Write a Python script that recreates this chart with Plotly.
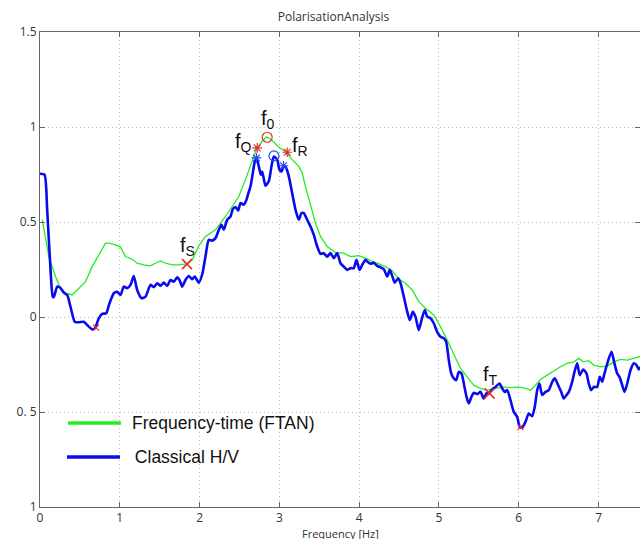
import plotly.graph_objects as go

# ---- data ----
blue_x = [0.0, 0.056, 0.090, 0.132, 0.160, 0.173, 0.216, 0.257, 0.298, 0.341, 0.382, 0.436, 0.486, 0.549,
          0.591, 0.654, 0.687, 0.737, 0.779, 0.830, 0.871, 0.925, 0.967, 1.009, 1.050, 1.093, 1.134, 1.175,
          1.218, 1.272, 1.322, 1.385, 1.426, 1.469, 1.510, 1.551, 1.594, 1.635, 1.677, 1.719, 1.748, 1.782,
          1.823, 1.865, 1.907, 1.940, 1.990, 2.033, 2.074, 2.115, 2.158, 2.199, 2.241, 2.274, 2.303, 2.346,
          2.387, 2.416, 2.450, 2.484, 2.513, 2.554, 2.584, 2.609, 2.638, 2.667, 2.692, 2.713, 2.742, 2.767,
          2.784, 2.826, 2.867, 2.901, 2.930, 2.972, 3.001, 3.026, 3.055, 3.085, 3.118, 3.160, 3.202, 3.243,
          3.277, 3.306, 3.348, 3.390, 3.431, 3.474, 3.515, 3.556, 3.599, 3.640, 3.682, 3.724, 3.766, 3.807,
          3.850, 3.891, 3.932, 3.966, 4.004, 4.038, 4.079, 4.100, 4.142, 4.183, 4.226, 4.267, 4.308, 4.351,
          4.383, 4.414, 4.446, 4.489, 4.518, 4.559, 4.602, 4.634, 4.672, 4.705, 4.747, 4.781, 4.822, 4.852,
          4.894, 4.935, 4.977, 5.019, 5.060, 5.090, 5.123, 5.153, 5.186, 5.216, 5.248, 5.282, 5.311, 5.345,
          5.373, 5.407, 5.436, 5.479, 5.520, 5.561, 5.595, 5.633, 5.667, 5.708, 5.758, 5.792, 5.825, 5.855,
          5.896, 5.937, 5.980, 6.013, 6.043, 6.084, 6.125, 6.168, 6.200, 6.231, 6.259, 6.293, 6.335, 6.376,
          6.419, 6.451, 6.494, 6.531, 6.564, 6.598, 6.627, 6.669, 6.698, 6.732, 6.764, 6.807, 6.848, 6.877,
          6.907, 6.940, 6.982, 7.015, 7.045, 7.074, 7.115, 7.162, 7.199, 7.233, 7.262, 7.296, 7.325, 7.359,
          7.400, 7.441, 7.475, 7.504, 7.537]
blue_y = [0.754, 0.749, 0.564, 0.248, 0.107, 0.105, 0.160, 0.153, 0.128, 0.116, 0.054, -0.025, -0.028, -0.025,
          -0.042, -0.065, -0.060, -0.007, 0.016, 0.020, 0.072, 0.125, 0.133, 0.116, 0.160, 0.151, 0.169, 0.216,
          0.142, 0.099, 0.107, 0.169, 0.157, 0.178, 0.164, 0.181, 0.164, 0.195, 0.186, 0.209, 0.195, 0.160,
          0.195, 0.216, 0.199, 0.213, 0.181, 0.225, 0.320, 0.406, 0.402, 0.415, 0.459, 0.485, 0.459, 0.512,
          0.529, 0.568, 0.579, 0.561, 0.600, 0.591, 0.613, 0.649, 0.687, 0.758, 0.819, 0.837, 0.793, 0.749,
          0.766, 0.691, 0.714, 0.793, 0.845, 0.828, 0.775, 0.766, 0.796, 0.784, 0.740, 0.652, 0.564, 0.512,
          0.547, 0.547, 0.512, 0.476, 0.432, 0.371, 0.332, 0.336, 0.318, 0.336, 0.310, 0.336, 0.283, 0.265,
          0.248, 0.257, 0.257, 0.301, 0.248, 0.274, 0.301, 0.292, 0.280, 0.286, 0.269, 0.262, 0.252, 0.213,
          0.248, 0.216, 0.181, 0.204, 0.178, 0.107, 0.028, -0.016, 0.028, 0.002, -0.069, -0.016, 0.037, 0.002,
          -0.007, -0.033, -0.078, -0.104, -0.112, -0.130, -0.227, -0.297, -0.323, -0.332, -0.289, -0.297, -0.350, -0.420,
          -0.455, -0.420, -0.399, -0.406, -0.394, -0.429, -0.402, -0.399, -0.381, -0.368, -0.350, -0.376, -0.394, -0.385,
          -0.438, -0.499, -0.526, -0.579, -0.582, -0.552, -0.508, -0.522, -0.473, -0.385, -0.350, -0.411, -0.394, -0.385,
          -0.341, -0.323, -0.359, -0.394, -0.429, -0.411, -0.394, -0.341, -0.289, -0.244, -0.306, -0.276, -0.297, -0.350,
          -0.385, -0.368, -0.368, -0.315, -0.341, -0.297, -0.236, -0.183, -0.244, -0.297, -0.315, -0.359, -0.394, -0.350,
          -0.280, -0.244, -0.253, -0.276, -0.258]

green_x = [0.028, 0.069, 0.110, 0.153, 0.194, 0.257, 0.320, 0.404, 0.466, 0.570, 0.654, 0.758, 0.821, 0.862,
           0.946, 1.009, 1.071, 1.155, 1.218, 1.301, 1.385, 1.447, 1.510, 1.573, 1.657, 1.739, 1.845, 1.907,
           1.990, 2.074, 2.199, 2.325, 2.409, 2.491, 2.575, 2.659, 2.713, 2.784, 2.838, 2.889, 2.992, 3.085,
           3.160, 3.243, 3.286, 3.327, 3.390, 3.452, 3.515, 3.599, 3.703, 3.807, 3.891, 3.995, 4.079, 4.142,
           4.246, 4.330, 4.414, 4.496, 4.580, 4.664, 4.747, 4.831, 4.935, 5.019, 5.103, 5.186, 5.269, 5.353,
           5.436, 5.520, 5.604, 5.708, 5.792, 5.896, 6.000, 6.084, 6.147, 6.209, 6.272, 6.356, 6.439, 6.523,
           6.606, 6.689, 6.752, 6.807, 6.877, 6.940, 7.024, 7.108, 7.190, 7.274, 7.359, 7.441, 7.537]
green_y = [0.512, 0.406, 0.318, 0.265, 0.213, 0.151, 0.125, 0.116, 0.142, 0.186, 0.265, 0.339, 0.389, 0.389,
           0.380, 0.368, 0.318, 0.304, 0.283, 0.274, 0.269, 0.283, 0.295, 0.283, 0.274, 0.274, 0.280, 0.301,
           0.374, 0.424, 0.459, 0.529, 0.582, 0.634, 0.723, 0.828, 0.884, 0.925, 0.948, 0.937, 0.895, 0.867,
           0.828, 0.793, 0.758, 0.687, 0.582, 0.494, 0.424, 0.371, 0.339, 0.336, 0.318, 0.323, 0.310, 0.297,
           0.280, 0.265, 0.244, 0.199, 0.178, 0.142, 0.081, 0.046, 0.011, -0.051, -0.121, -0.200, -0.271, -0.315,
           -0.359, -0.376, -0.385, -0.376, -0.368, -0.372, -0.368, -0.376, -0.385, -0.359, -0.329, -0.306, -0.283, -0.262,
           -0.244, -0.236, -0.218, -0.236, -0.230, -0.253, -0.262, -0.258, -0.236, -0.223, -0.227, -0.218, -0.206]

# picked points
red_x_pts_x = [0.702, 6.021]
red_x_pts_y = [-0.056, -0.580]
big_x_pts_x = [1.842, 5.633]
big_x_pts_y = [0.278, -0.402]
red_star_x = [2.722, 3.098]
red_star_y = [0.890, 0.867]
blue_star_x = [2.713, 3.051]
blue_star_y = [0.837, 0.796]
red_circle_x = [2.847]
red_circle_y = [0.946]
blue_circle_x = [2.932]
blue_circle_y = [0.848]

label_text = ["f<sub>Q</sub>", "f<sub>0</sub>", "f<sub>R</sub>", "f<sub>S</sub>", "f<sub>T</sub>"]
label_x = [2.553, 2.863, 3.264, 1.848, 5.645]
label_y = [0.918, 1.039, 0.897, 0.369, -0.306]

series_names = ["Frequency-time (FTAN)", " Classical H/V"]

y_tickvals = [-1, -0.5, 0, 0.5, 1, 1.5]
y_ticktext = ["1", "0. 5", "0", "0.5", "1", "1.5"]
x_tickvals = [0, 1, 2, 3, 4, 5, 6, 7]

GREEN = "#22ee22"
BLUE = "#0a0aee"
RED = "#e03030"
LBLUE = "#2244ff"

fig = go.Figure()
fig.add_trace(go.Scatter(x=green_x, y=green_y, mode="lines", line=dict(color=GREEN, width=1.3),
                         name=series_names[0], showlegend=False, hoverinfo="skip"))
fig.add_trace(go.Scatter(x=blue_x, y=blue_y, mode="lines",
                         line=dict(color=BLUE, width=2.6, shape="spline", smoothing=0.6),
                         name=series_names[1], showlegend=False, hoverinfo="skip"))


def add_markers(xs, ys, symbol, size, color, width):
    fig.add_trace(go.Scatter(x=xs, y=ys, mode="markers", showlegend=False, hoverinfo="skip",
                             marker=dict(symbol=symbol, size=size, color=color,
                                         line=dict(color=color, width=width))))


add_markers(red_x_pts_x, red_x_pts_y, "x-thin-open", 6, RED, 1.2)
add_markers(big_x_pts_x, big_x_pts_y, "x-thin-open", 10, RED, 1.6)
add_markers(red_star_x, red_star_y, "asterisk-open", 8, RED, 1.2)
add_markers(blue_star_x, blue_star_y, "asterisk-open", 8, LBLUE, 1.2)
add_markers(red_circle_x, red_circle_y, "circle-open", 10, RED, 1.2)
add_markers(blue_circle_x, blue_circle_y, "circle-open", 10, LBLUE, 1.2)

for t, xx, yy in zip(label_text, label_x, label_y):
    fig.add_annotation(x=xx, y=yy, text=t, showarrow=False,
                       font=dict(family="Liberation Sans, Arial", size=20, color="#111"))

# manual legend (line samples + labels) inside the axes, lower left
legend_rows = [(0.1768, GREEN, 0.0467, 0.135, 0.150), (0.1053, BLUE, 0.045, 0.1333, 0.146)]
for (ly, col, x0, x1, tx), name in zip(legend_rows, series_names):
    fig.add_shape(type="line", xref="paper", yref="paper", x0=x0, x1=x1, y0=ly, y1=ly,
                  line=dict(color=col, width=3.5))
    fig.add_annotation(xref="paper", yref="paper", x=tx, y=ly, text=name, showarrow=False,
                       xanchor="left", yanchor="middle",
                       font=dict(family="Liberation Sans, Arial", size=17.5, color="#111"))

fig.add_annotation(xref="paper", yref="paper", x=0.5, y=-0.056, text="Frequency [Hz]", showarrow=False,
                   xanchor="center", yanchor="middle", borderpad=0,
                   font=dict(family="Open Sans, Liberation Sans", size=11, color="#333"))

axis_common = dict(showline=True, linecolor="#666", linewidth=1, mirror="ticks", ticks="inside",
                   ticklen=5, tickcolor="#666", showgrid=True, gridcolor="#b8b8b8", griddash="1px,3px",
                   gridwidth=1, zeroline=False,
                   tickfont=dict(family="Open Sans, Liberation Sans", size=12, color="#333"))

fig.update_layout(
    width=640, height=539,
    margin=dict(l=40, r=0, t=32, b=32),
    plot_bgcolor="white", paper_bgcolor="white",
    showlegend=False,
    title=dict(text="PolarisationAnalysis", x=0.521, xanchor="center", y=0.968, yanchor="middle",
               font=dict(family="Open Sans, Liberation Sans", size=12, color="#333")),
    xaxis=dict(range=[0, 7.519], tickvals=x_tickvals, **axis_common),
    yaxis=dict(range=[-1, 1.5], tickvals=y_tickvals, ticktext=y_ticktext, **axis_common),
)

fig.write_html("out.html")
